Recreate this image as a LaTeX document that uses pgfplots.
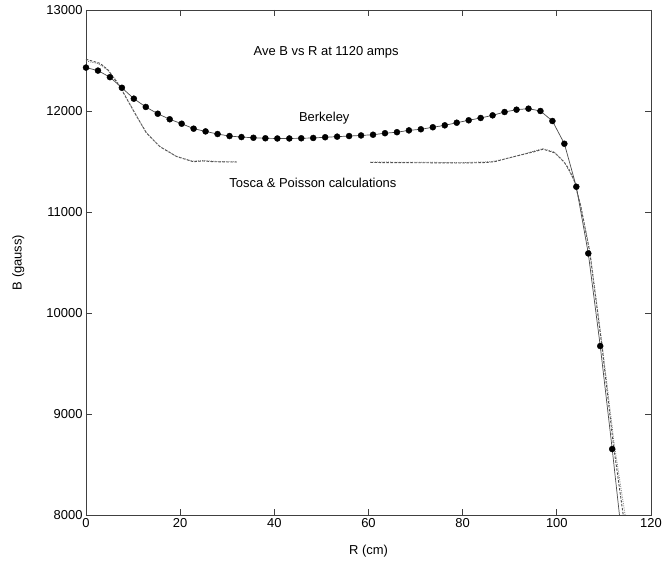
\documentclass[border=0pt]{standalone}
\usepackage{fontspec}
\setmainfont{Liberation Sans}
\usepackage{pgfplots}
\pgfplotsset{compat=1.18}
\begin{document}
\begin{tikzpicture}
\begin{axis}[
  scale only axis, width=565bp, height=505bp,
  xmin=0, xmax=120, ymin=8000, ymax=13000,
  xtick={0,20,...,120}, ytick={8000,9000,...,13000},
  scaled y ticks=false,
  tick align=inside, major tick length=6bp,
  axis line style={black!75, line width=0.8bp},
  tick style={black!75, line width=0.8bp},
  /pgf/number format/assume math mode=true,
  /pgf/number format/1000 sep={},
  font=\fontsize{13}{15}\selectfont,
  xlabel={R (cm)}, ylabel={B (gauss)},
  xlabel style={at={(axis description cs:0.5,-0.071)}, anchor=center},
  ylabel style={at={(axis description cs:-0.120,0.5)}, anchor=center},
  unbounded coords=jump,
]
% --- Tosca (dashed) ---
\addplot[black!70, line width=0.9bp, dash pattern=on 2.5bp off 1.5bp]
  coordinates {(0,12512) (3,12472) (4.7,12406) (7.2,12241) (9,12092) (10.8,11944)
  (12.9,11779) (15.7,11647) (19.3,11548) (22.8,11498) (25,11505) (27,11498) (30,11495)
  (32.2,11495) (33,nan) (60.4,11490) (70,11488) (80,11485) (85,11490) (87,11500)
  (89.5,11532) (92.3,11564) (95.2,11597) (97.1,11622) (99.6,11585) (101.6,11490)
  (102.5,11430) (103.7,11310) (105.1,11053) (107,10600) (109.5,9700) (112,8700) (114.1,8000)};
% --- Poisson (dotted) ---
\addplot[black!55, line width=0.7bp, dash pattern=on 1bp off 1.2bp]
  coordinates {(0,12495) (2.5,12470) (4.5,12410) (6.5,12300) (8.5,12140) (10.5,11970)
  (12.7,11790) (15.5,11655) (19,11555) (22.5,11505) (25,11510) (28,11500) (32,11498)
  (33,nan) (60.4,11495) (70,11493) (80,11490) (86,11498) (89.5,11530) (93,11575)
  (97,11628) (99.4,11595) (101.5,11500) (103.5,11330) (105,11080) (107,10620)
  (109.6,9700) (112.2,8700) (114.5,8000)};
% --- Berkeley measurement ---
\addplot[black!70, line width=0.7bp]
  coordinates {(0,12430) (2.54,12400) (5.08,12335) (7.62,12230) (10.16,12122)
  (12.7,12040) (15.24,11973) (17.78,11918) (20.32,11874) (22.86,11825) (25.4,11798)
  (27.94,11772) (30.48,11752) (33.02,11742) (35.56,11735) (38.1,11730) (40.64,11728)
  (43.18,11728) (45.72,11730) (48.26,11733) (50.8,11740) (53.34,11746) (55.88,11752)
  (58.42,11758) (60.96,11765) (63.5,11780) (66.04,11790) (68.58,11808) (71.12,11819)
  (73.66,11839) (76.2,11858) (78.74,11884) (81.28,11908) (83.82,11931) (86.36,11957)
  (88.9,11990) (91.44,12013) (93.98,12023) (96.52,12000) (99.06,11901) (101.6,11676)
  (104.14,11250) (106.68,10590) (109.22,9673) (111.76,8653) (113.3,8000)};
\addplot[only marks, mark=*, mark size=3bp, black]
  coordinates {(0,12430) (2.54,12400) (5.08,12335) (7.62,12230) (10.16,12122)
  (12.7,12040) (15.24,11973) (17.78,11918) (20.32,11874) (22.86,11825) (25.4,11798)
  (27.94,11772) (30.48,11752) (33.02,11742) (35.56,11735) (38.1,11730) (40.64,11728)
  (43.18,11728) (45.72,11730) (48.26,11733) (50.8,11740) (53.34,11746) (55.88,11752)
  (58.42,11758) (60.96,11765) (63.5,11780) (66.04,11790) (68.58,11808) (71.12,11819)
  (73.66,11839) (76.2,11858) (78.74,11884) (81.28,11908) (83.82,11931) (86.36,11957)
  (88.9,11990) (91.44,12013) (93.98,12023) (96.52,12000) (99.06,11901) (101.6,11676)
  (104.14,11250) (106.68,10590) (109.22,9673) (111.76,8653)};
% --- labels ---
\node[font=\fontsize{13}{15}\selectfont] at (axis cs:51,12584) {Ave B vs R at 1120 amps};
\node[font=\fontsize{13}{15}\selectfont] at (axis cs:50.6,11928) {Berkeley};
\node[font=\fontsize{13}{15}\selectfont] at (axis cs:48.2,11284) {Tosca \& Poisson calculations};
\end{axis}
\pgfresetboundingbox
\path[use as bounding box] ([shift={(-86bp,-53bp)}]current axis.south west)
  rectangle ([shift={(13bp,10bp)}]current axis.north east);
\end{tikzpicture}
\end{document}
